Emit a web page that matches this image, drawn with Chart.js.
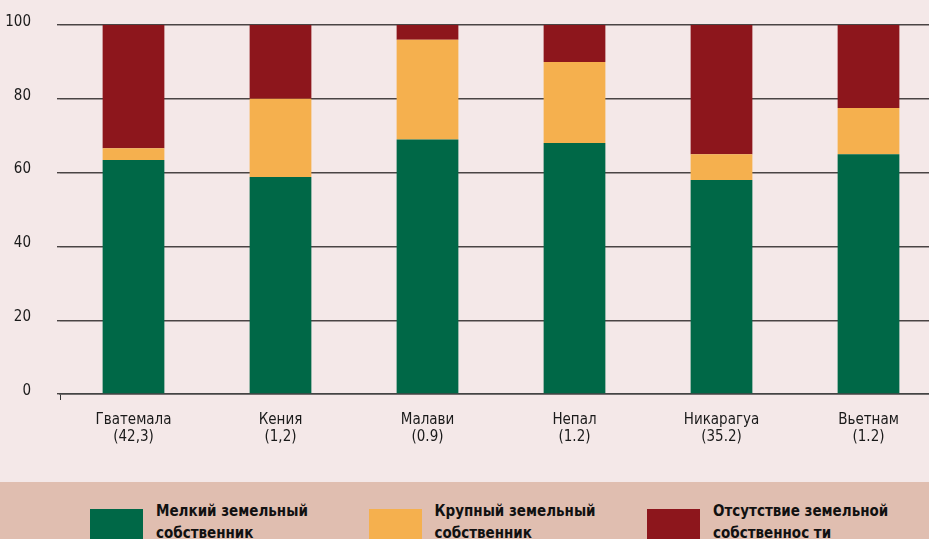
<!DOCTYPE html>
<html>
<head>
<meta charset="utf-8">
<script src="https://cdn.jsdelivr.net/npm/chart.js@4"></script>
<style>
  html, body {
    margin: 0;
    padding: 0;
    width: 929px;
    height: 539px;
    overflow: hidden;
    background: #f4e8e8;
    font-family: "DejaVu Sans Condensed", sans-serif;
  }
  #wrap {
    position: absolute;
    left: 0;
    top: 0;
    width: 942px;
    height: 482px;
  }
  #legend {
    position: absolute;
    left: 0;
    top: 482px;
    width: 929px;
    height: 57px;
    background: #e0beb0;
  }
  .item {
    position: absolute;
    top: 0;
  }
  .swatch {
    position: absolute;
    left: 0;
    top: 27px;
    width: 53px;
    height: 32px;
  }
  .txt {
    position: absolute;
    left: 66px;
    top: 18px;
    white-space: nowrap;
    font-weight: bold;
    font-size: 15px;
    line-height: 22px;
    color: #111;
  }
</style>
</head>
<body>
<div id="wrap"><canvas id="chartId" width="942" height="482"></canvas></div>
<div id="legend"></div>
<script>
// categories and values
const countries = [
  ["Гватемала", "(42,3)"],
  ["Кения", "(1,2)"],
  ["Малави", "(0.9)"],
  ["Непал", "(1.2)"],
  ["Никарагуа", "(35.2)"],
  ["Вьетнам", "(1.2)"],
];
const smallOwner = [63.4, 58.8, 69, 68, 58, 65];
const largeOwner = [3.2, 21.2, 27, 22, 7, 12.5];
const noLand = [33.4, 20, 4, 10, 35, 22.5];
const yTicks = [0, 20, 40, 60, 80, 100];

const seriesNames = [
  ["Мелкий земельный", "собственник"],
  ["Крупный земельный", "собственник"],
  ["Отсутствие земельной", "собственнос ти"],
];
const colors = ["#006847", "#f5b04e", "#8d161c"];

var fontName = '"DejaVu Sans Condensed", sans-serif';

// building the chart
chrt = document.getElementById("chartId").getContext("2d");

chartId = new Chart(chrt, {
  type: "bar",
  data: {
    labels: countries,
    datasets: [
      { label: seriesNames[0].join(" "), data: smallOwner, backgroundColor: colors[0] },
      { label: seriesNames[1].join(" "), data: largeOwner, backgroundColor: colors[1] },
      { label: seriesNames[2].join(" "), data: noLand, backgroundColor: colors[2] },
    ],
  },
  options: {
    responsive: false,
    animation: false,
    barPercentage: 0.42,
    categoryPercentage: 1,
    layout: { padding: { top: 25, right: 0, left: 0, bottom: 0 } },
    plugins: {
      legend: { display: false },
      tooltip: { enabled: false },
    },
    scales: {
      x: {
        stacked: true,
        border: { color: "#444", width: 1.5 },
        grid: {
          drawOnChartArea: false,
          drawTicks: true,
          tickLength: 6,
          color: function (ctx) {
            return ctx.index === 0 ? "#333" : "rgba(0,0,0,0)";
          },
        },
        ticks: {
          color: "#1a1a1a",
          font: { family: fontName, size: 15, lineHeight: 1.1 },
          padding: 12,
          maxRotation: 0,
          autoSkip: false,
        },
        afterFit: function (scale) {
          scale.height = 88;
        },
      },
      y: {
        stacked: true,
        min: 0,
        max: 100,
        afterBuildTicks: function (scale) {
          scale.ticks = yTicks.map(function (v) { return { value: v }; });
        },
        border: { display: false },
        grid: {
          color: "#4a4444",
          lineWidth: 1.4,
          drawTicks: true,
          tickLength: 3,
        },
        ticks: {
          color: "#1a1a1a",
          font: { family: fontName, size: 15 },
          padding: 26,
          labelOffset: -3,
        },
        // fixed width, and no extra room above/below for the labels
        afterFit: function (scale) {
          scale.width = 60;
          scale.paddingTop = 0;
          scale.paddingBottom = 0;
        },
      },
    },
  },
});

// html legend made from the series names
var legend = document.getElementById("legend");
for (let i = 0; i < seriesNames.length; i++) {
  const item = document.createElement("div");
  item.className = "item";
  item.style.left = 90 + i * 278.5 + "px";
  const sw = document.createElement("div");
  sw.className = "swatch";
  sw.style.background = colors[i];
  const t = document.createElement("div");
  t.className = "txt";
  t.innerHTML = seriesNames[i].join("<br>");
  item.appendChild(sw);
  item.appendChild(t);
  legend.appendChild(item);
}
</script>
</body>
</html>
